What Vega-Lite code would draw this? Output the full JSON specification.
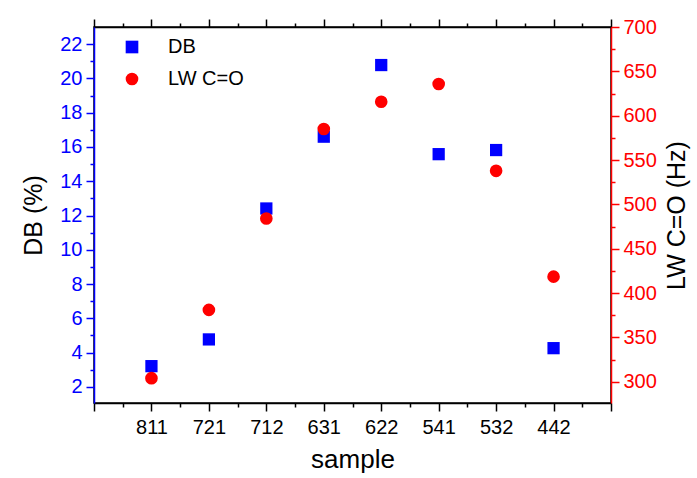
{
  "$schema": "https://vega.github.io/schema/vega-lite/v6.json",
  "autosize": {"type": "none"},
  "padding": {"left": 94, "top": 27, "right": 86, "bottom": 75},
  "width": 517,
  "height": 376,
  "background": "white",
  "config": {
    "font": "Liberation Sans",
    "view": {"stroke": "black", "strokeWidth": 1.5},
    "axis": {"grid": false, "labelFont": "Liberation Sans", "titleFont": "Liberation Sans", "titleFontWeight": "normal", "labelFontSize": 20, "titleFontSize": 25, "domainWidth": 1.5, "tickWidth": 1.5}
  },
  "data": {
    "values": [
      {"sample": "811", "DB": 3.21, "LW": 304},
      {"sample": "721", "DB": 4.77, "LW": 381},
      {"sample": "712", "DB": 12.41, "LW": 484},
      {"sample": "631", "DB": 16.6, "LW": 585},
      {"sample": "622", "DB": 20.78, "LW": 615.7},
      {"sample": "541", "DB": 15.58, "LW": 635.7},
      {"sample": "532", "DB": 15.82, "LW": 537.8},
      {"sample": "442", "DB": 4.26, "LW": 418.5}
    ]
  },
  "layer": [
    {
      "mark": {"type": "point", "filled": true, "size": 150, "opacity": 1},
      "encoding": {
        "x": {
          "field": "sample", "type": "ordinal",
          "scale": {"type": "point", "padding": 0, "domain": ["e0","h0","811","h1","721","h2","712","h3","631","h4","622","h5","541","h6","532","h7","442","h8","e9"]},
          "axis": {"orient": "bottom", "title": "sample", "titleFontSize": 26, "labelColor": "black", "domainColor": "black", "tickColor": "black", "labelAngle": 0, "labelPadding": 6, "titlePadding": 9,
            "labelExpr": "(substring(datum.label,0,1) === 'h' || substring(datum.label,0,1) === 'e') ? '' : datum.label",
            "tickSize": {"condition": {"test": "substring(datum.value,0,1) === 'h'", "value": 4}, "value": 8}}
        },
        "y": {
          "field": "DB", "type": "quantitative",
          "scale": {"domain": [1.06, 23], "nice": false, "zero": false},
          "axis": {"orient": "left", "title": "DB (%)", "titleColor": "black", "labelColor": "#0000FF", "domainColor": "#0000FF", "tickColor": "#0000FF", "titlePadding": 13, "labelPadding": 4,
            "values": [2,3,4,5,6,7,8,9,10,11,12,13,14,15,16,17,18,19,20,21,22],
            "labelExpr": "datum.value % 2 === 0 ? datum.label : ''",
            "tickSize": {"condition": {"test": "datum.value % 2 === 0", "value": 8}, "value": 4}}
        },
        "color": {
          "datum": "DB",
          "scale": {"domain": ["DB", "LW C=O"], "range": ["#0000FF", "#FF0000"]},
          "legend": {"orient": "none", "legendX": 28, "legendY": 10, "title": null, "labelFontSize": 20, "labelFont": "Liberation Sans", "labelColor": "black", "symbolSize": 160, "labelOffset": 26, "rowPadding": 12, "symbolStrokeWidth": 0, "padding": 0}
        },
        "shape": {
          "datum": "DB",
          "scale": {"domain": ["DB", "LW C=O"], "range": ["square", "circle"]}
        }
      }
    },
    {
      "mark": {"type": "point", "filled": true, "size": 160, "opacity": 1},
      "encoding": {
        "x": {
          "field": "sample", "type": "ordinal",
          "scale": {"type": "point", "padding": 0, "domain": ["e0","h0","811","h1","721","h2","712","h3","631","h4","622","h5","541","h6","532","h7","442","h8","e9"]},
          "axis": {"orient": "top", "title": null, "labels": false, "domainColor": "black", "tickColor": "black",
            "tickSize": {"condition": {"test": "substring(datum.value,0,1) === 'h'", "value": 4}, "value": 8}}
        },
        "y": {
          "field": "LW", "type": "quantitative",
          "scale": {"domain": [276, 700], "nice": false, "zero": false},
          "axis": {"orient": "right", "title": "LW C=O (Hz)", "titleAngle": -90, "titleBaseline": "top", "titleColor": "black", "labelColor": "#FF0000", "domainColor": "#FF0000", "tickColor": "#FF0000", "titlePadding": 8, "labelPadding": 4,
            "values": [300,325,350,375,400,425,450,475,500,525,550,575,600,625,650,675,700],
            "labelExpr": "datum.value % 50 === 0 ? datum.label : ''",
            "tickSize": {"condition": {"test": "datum.value % 50 === 0", "value": 8}, "value": 4}}
        },
        "color": {"datum": "LW C=O"},
        "shape": {"datum": "LW C=O"}
      }
    }
  ],
  "resolve": {"scale": {"y": "independent", "x": "independent"}, "axis": {"y": "independent", "x": "independent"}}
}
